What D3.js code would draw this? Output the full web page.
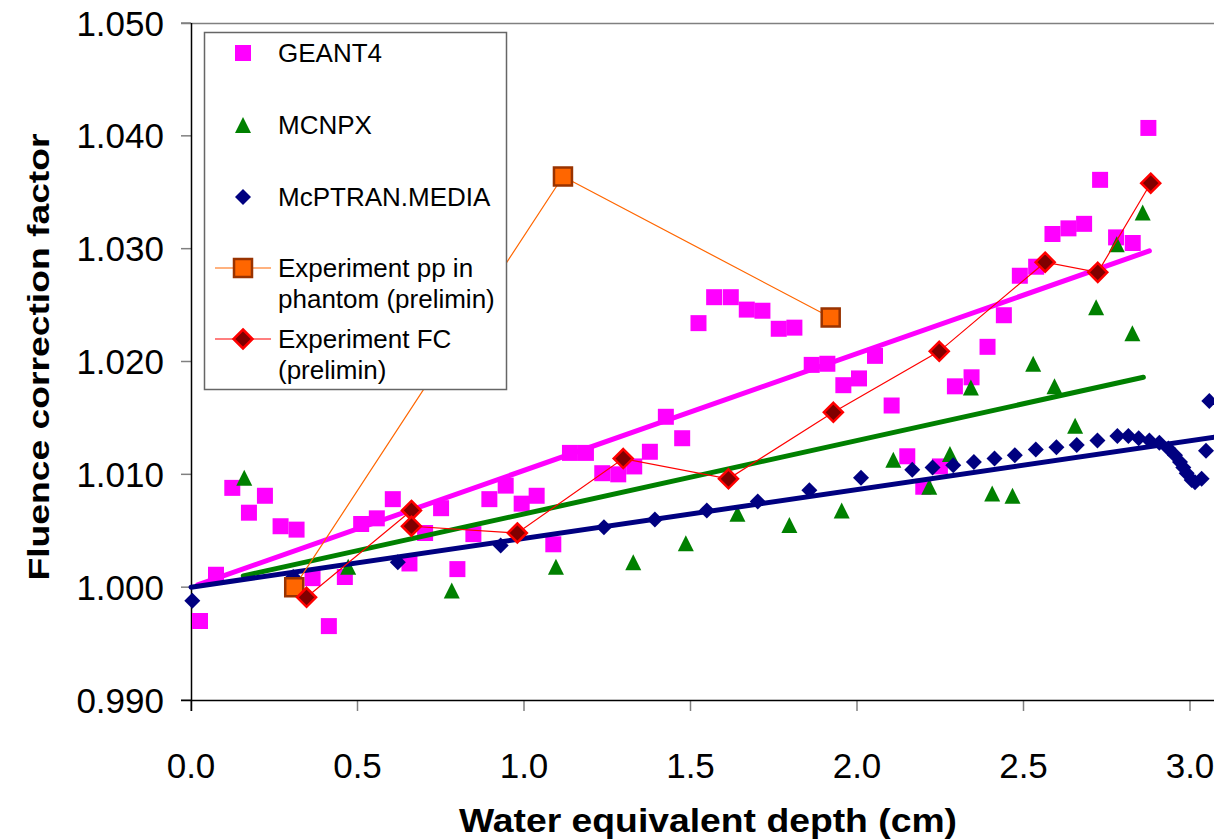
<!DOCTYPE html>
<html lang="en">
<head>
<meta charset="UTF-8">
<title>Fluence correction factor</title>
<script src="https://d3js.org/d3.v7.min.js"></script>
<style>
    body { margin: 0; background: #fff; }
    svg { display: block; font-family: "Liberation Sans", Arial, sans-serif; }
    .tick_label { font-size: 35px; fill: #000; }
    .legend_text { font-size: 26px; fill: #000; }
    .axis_title { font-size: 32px; font-weight: bold; fill: #000; }
</style>
</head>
<body>
<svg width="1214" height="839"></svg>
<script>
    // GEANT4 (magenta squares)
    const geantX = [0.027,0.075,0.124,0.174,0.222,0.269,0.317,0.365,0.414,0.462,0.511,0.558,0.606,0.656,0.703,
        0.751,0.800,0.848,0.896,0.945,0.993,1.038,1.088,1.138,1.186,1.235,1.283,1.331,1.378,1.426,
        1.475,1.524,1.571,1.621,1.669,1.716,1.765,1.812,1.864,1.911,1.959,2.006,2.054,2.104,2.151,
        2.199,2.249,2.294,2.344,2.392,2.441,2.489,2.538,2.587,2.635,2.682,2.730,2.778,2.828,2.875];
    const geantY = [0.9970,1.0011,1.0088,1.0066,1.0081,1.0054,1.0051,1.0008,0.99655,1.0009,1.0056,1.0061,1.0078,1.0021,1.0048,
        1.0070,1.0016,1.0047,1.0078,1.0090,1.0074,1.0081,1.0038,1.0119,1.0119,1.0101,1.0100,1.0107,1.0120,1.0151,
        1.0132,1.0234,1.0257,1.0257,1.0246,1.0245,1.0229,1.0230,1.0197,1.0198,1.0179,1.0185,1.0205,1.0161,1.0116,
        1.0089,1.0107,1.0178,1.0186,1.0213,1.0241,1.0276,1.0284,1.0313,1.0318,1.0322,1.0361,1.0310,1.0305,1.0407];

    // MCNPX (green triangles)
    const mcnpX = [0.160,0.472,0.783,1.096,1.328,1.486,1.641,1.797,1.954,2.109,2.217,2.279,2.342,2.406,2.467,
        2.529,2.593,2.655,2.718,2.780,2.827,2.858];
    const mcnpY = [1.0097,1.0018,0.9997,1.0018,1.0022,1.0039,1.0065,1.0055,1.0068,1.0113,1.0089,1.0118,1.0177,1.0083,1.0081,
        1.0198,1.0178,1.0143,1.0248,1.0304,1.0225,1.0332];

    // McPTRAN.MEDIA (navy diamonds)
    const mcptX = [0.004,0.307,0.621,0.930,1.240,1.393,1.549,1.702,1.857,2.012,2.166,2.227,2.289,2.351,2.413,
        2.474,2.537,2.599,2.660,2.722,2.782,2.815,2.846,2.878,2.908,2.935,2.955,2.970,2.980,2.990,
        3.005,3.015,3.035,3.048,3.058];
    const mcptY = [0.9988,1.0009,1.0022,1.0037,1.0053,1.0060,1.0068,1.0076,1.0086,1.0097,1.0104,1.0106,1.0108,1.0111,1.0114,
        1.0117,1.0122,1.0124,1.0126,1.0130,1.0134,1.0134,1.0132,1.0130,1.0128,1.0123,1.0117,1.0111,1.0106,1.0101,
        1.0095,1.0093,1.0096,1.0121,1.0165];

    // experiments
    const ppX = [0.310,1.117,1.921];
    const ppY = [1.0000,1.0364,1.0239];
    const fcX = [0.347,0.662,0.662,0.980,1.298,1.614,1.929,2.247,2.565,2.723,2.882];
    const fcY = [0.9991,1.0068,1.0054,1.0048,1.0114,1.0096,1.0155,1.0209,1.0288,1.0279,1.0358];

    // linear trendlines (end points)
    const geantFitX = [0.02, 2.878], geantFitY = [1.0002, 1.0298];
    const mcnpFitX = [0.157, 2.860], mcnpFitY = [1.0010, 1.0186];
    const mcptFitX = [0.0, 3.1], mcptFitY = [1.0000, 1.0134];

    const xTicks = [0, 0.5, 1.0, 1.5, 2.0, 2.5, 3.0];
    const yTicks = [0.990, 1.000, 1.010, 1.020, 1.030, 1.040, 1.050];

    const legendNames = ["GEANT4", "MCNPX", "McPTRAN.MEDIA",
        ["Experiment pp in", "phantom (prelimin)"], ["Experiment FC", "(prelimin)"]];

    const svg = d3.select("svg");
    const x = d3.scaleLinear().domain([0, 3]).range([191, 1190]);
    const y = d3.scaleLinear().domain([0.99, 1.05]).range([700, 23]);

    const zip = (a, b) => a.map((v, i) => [v, b[i]]);

    // marker shapes centred on 0,0
    function shape(type, s) {
        const h = s / 2;
        if (type === "square") return `M${-h},${-h}H${h}V${h}H${-h}Z`;
        if (type === "triangle") return `M0,${-h}L${h},${h}L${-h},${h}Z`;
        return `M0,${-h}L${h},0L0,${h}L${-h},0Z`;
    }

    // plot border (top) and axes
    svg.append("line").attr("x1", 181).attr("x2", 1214).attr("y1", 23.5).attr("y2", 23.5)
        .attr("stroke", "#808080").attr("stroke-width", 1.5);

    const g = svg.append("g");
    yTicks.forEach(function (t) {
        g.append("line").attr("x1", 181).attr("x2", 191).attr("y1", y(t)).attr("y2", y(t))
            .attr("stroke", "#808080").attr("stroke-width", 1.5);
        g.append("text").attr("class", "tick_label").attr("x", 164).attr("y", y(t))
            .attr("dy", "0.36em").attr("text-anchor", "end").text(t.toFixed(3));
    });
    xTicks.forEach(function (t) {
        g.append("line").attr("x1", x(t)).attr("x2", x(t)).attr("y1", 700).attr("y2", 711)
            .attr("stroke", "#808080").attr("stroke-width", 1.5);
        g.append("text").attr("class", "tick_label").attr("x", x(t)).attr("y", 778)
            .attr("text-anchor", "middle").text(t.toFixed(1));
    });
    svg.append("line").attr("x1", 181).attr("x2", 1214).attr("y1", 700.5).attr("y2", 700.5)
        .attr("stroke", "#000").attr("stroke-width", 1.5);
    svg.append("line").attr("x1", 191.5).attr("x2", 191.5).attr("y1", 23).attr("y2", 711)
        .attr("stroke", "#000").attr("stroke-width", 1.5);

    // axis titles
    svg.append("text").attr("class", "axis_title")
        .attr("transform", "translate(49,357) rotate(-90)")
        .attr("text-anchor", "middle")
        .attr("textLength", 447).attr("lengthAdjust", "spacingAndGlyphs")
        .style("font-size", "29px")
        .text("Fluence correction factor");
    svg.append("text").attr("class", "axis_title")
        .attr("x", 708).attr("y", 832).attr("text-anchor", "middle")
        .attr("textLength", 498).attr("lengthAdjust", "spacingAndGlyphs")
        .style("font-size", "34px")
        .text("Water equivalent depth (cm)");

    // scatter series
    function scatter(xs, ys, type, size, fill, stroke, sw) {
        svg.append("g").selectAll("path").data(zip(xs, ys)).join("path")
            .attr("transform", d => `translate(${x(d[0])},${y(d[1])})`)
            .attr("d", shape(type, size))
            .attr("fill", fill)
            .attr("stroke", stroke || "none")
            .attr("stroke-width", sw || 0);
    }
    scatter(geantX, geantY, "square", 16, "#FF00FF");
    scatter(mcnpX, mcnpY, "triangle", 16, "#008000");
    scatter(mcptX, mcptY, "diamond", 16, "#000080");

    // trendlines
    const line = d3.line().x(d => x(d[0])).y(d => y(d[1]));
    [[geantFitX, geantFitY, "#FF00FF"], [mcnpFitX, mcnpFitY, "#008000"], [mcptFitX, mcptFitY, "#000080"]]
        .forEach(function (f) {
            svg.append("path").datum(zip(f[0], f[1])).attr("d", line)
                .attr("fill", "none").attr("stroke", f[2]).attr("stroke-width", 5)
                .attr("stroke-linecap", "round");
        });

    // experiment series with connecting lines
    svg.append("path").datum(zip(ppX, ppY)).attr("d", line)
        .attr("fill", "none").attr("stroke", "#FF6600").attr("stroke-width", 1.2);
    scatter(ppX, ppY, "square", 18, "#FF6600", "#993300", 2.5);
    svg.append("path").datum(zip(fcX, fcY)).attr("d", line)
        .attr("fill", "none").attr("stroke", "#FF0000").attr("stroke-width", 1.2);
    scatter(fcX, fcY, "diamond", 19, "#800000", "#FF0000", 2.5);

    // legend
    const lg = svg.append("g");
    lg.append("rect").attr("x", 204.5).attr("y", 32.5).attr("width", 302).attr("height", 357)
        .attr("fill", "#fff").attr("stroke", "#666").attr("stroke-width", 1.5);
    const legendY = [53, 125, 197, 268, 339];
    const legendMarks = [
        {type: "square", size: 16, fill: "#FF00FF"},
        {type: "triangle", size: 16, fill: "#008000"},
        {type: "diamond", size: 16, fill: "#000080"},
        {type: "square", size: 18, fill: "#FF6600", stroke: "#993300", sw: 2.5, line: "#FF6600"},
        {type: "diamond", size: 19, fill: "#800000", stroke: "#FF0000", sw: 2.5, line: "#FF0000"}
    ];
    legendMarks.forEach(function (m, i) {
        const cy = legendY[i];
        if (m.line) {
            lg.append("line").attr("x1", 215).attr("x2", 271).attr("y1", cy).attr("y2", cy)
                .attr("stroke", m.line).attr("stroke-width", 1.2);
        }
        lg.append("path").attr("transform", `translate(243,${cy})`).attr("d", shape(m.type, m.size))
            .attr("fill", m.fill).attr("stroke", m.stroke || "none").attr("stroke-width", m.sw || 0);
        const names = [].concat(legendNames[i]);
        names.forEach(function (n, k) {
            lg.append("text").attr("class", "legend_text").attr("x", 278).attr("y", cy + k * 31)
                .attr("dy", "0.36em").text(n);
        });
    });
</script>
</body>
</html>
